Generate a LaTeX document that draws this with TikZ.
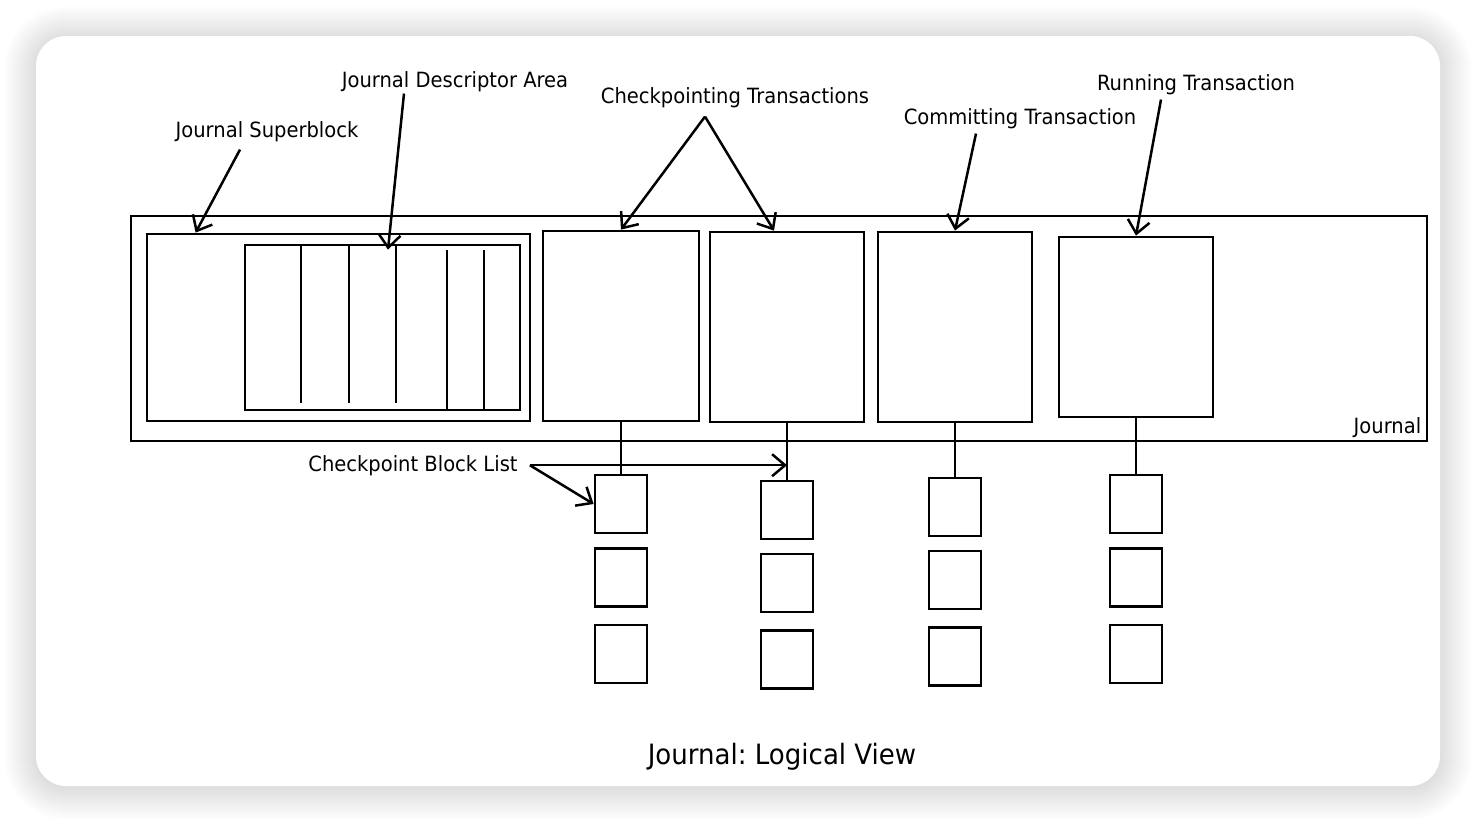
\documentclass[tikz,border=0pt]{standalone}
\usepackage{fontspec}
\setmainfont[FakeStretch=0.93]{DejaVu Sans}
\usetikzlibrary{arrows.meta}
\frenchspacing
\tikzset{
	box/.style={draw, line width=2.8pt, inner sep=0pt},
	blk/.style={box, minimum width=52pt, minimum height=58pt},
	trans/.style={box, minimum width=154pt, minimum height=190pt},
	lbl/.style={font=\fontsize{21}{25}\selectfont, inner sep=2pt, anchor=base},
	arr/.style={line width=2.5pt, -{Straight Barb[length=13pt,width=22pt]}},
	ln/.style={line width=2.6pt}
}
\begin{document}
\begin{tikzpicture}[x=1pt,y=-1pt]
	\useasboundingbox (0,0) rectangle (1476,822);
	\fill[white] (0,0) rectangle (1476,822);
	\foreach \sh in {1,...,32}
		\fill[black, opacity=0.005, rounded corners=30pt+\sh pt] (36-\sh,36-\sh+2) rectangle (1440+\sh,786+\sh+2);
	\fill[white, rounded corners=30pt] (36,36) rectangle (1440,786);

	\node[box, minimum width=1296pt, minimum height=225pt] (journal) at (779,328.5) {};
	\node[box, minimum width=383pt, minimum height=187pt] (super) at (338.5,327.5) {};
	\node[box, minimum width=275pt, minimum height=165pt] (desc) at (382.5,327.5) {};
	\foreach \x in {301,349,396} \draw[ln] (\x,245) -- (\x,403);
	\foreach \x in {447,484} \draw[ln] (\x,250) -- (\x,410);
	\node[trans, minimum width=156pt] (t1) at (621,326) {};
	\node[trans] (t2) at (787,327) {};
	\node[trans] (t3) at (955,327) {};
	\node[trans, minimum height=180pt] (t4) at (1136,327) {};

	\foreach \c/\x/\ya/\yb/\yc in {1/621/504/577.5/654, 2/787/510/583/659.5, 3/955/507/580/656.5, 4/1136/504/577.5/654} {
		\node[blk] (b\c1) at (\x,\ya) {};
		\node[blk] (b\c2) at (\x,\yb) {};
		\node[blk] (b\c3) at (\x,\yc) {};
		\draw[ln] (t\c.south) -- (b\c1.north);
	}

	\node[lbl] (lsuper) at (267,137) {Journal Superblock};
	\node[lbl] (ldesc) at (455,87) {Journal Descriptor Area};
	\node[lbl] (lckpt) at (735,103) {Checkpointing Transactions};
	\node[lbl] (lcomm) at (1020,124) {Committing Transaction};
	\node[lbl] (lrun) at (1196,90) {Running Transaction};
	\node[lbl] (lcbl) at (413,471) {Checkpoint Block List};
	\node[lbl, anchor=base east] (ljour) at ([xshift=-5pt,yshift=9pt]journal.south east) {Journal};
	\node[lbl, font=\fontsize{28}{32}\selectfont] (title) at (782,764) {Journal: Logical View};

	\draw[arr] ([xshift=-27pt,yshift=-6pt]lsuper.south) -- ([xshift=50pt]super.north west);
	\draw[arr] ([xshift=-51pt]ldesc.south) -- ([xshift=5.5pt,yshift=-6pt]desc.north);
	\draw[arr] ([xshift=-30pt,yshift=-7pt]lckpt.south) -- (t1.north);
	\draw[arr] ([xshift=-30pt,yshift=-7pt]lckpt.south) -- ([xshift=-13pt]t2.north);
	\draw[arr] ([xshift=-44pt,yshift=-3pt]lcomm.south) -- (t3.north);
	\draw[arr] ([xshift=-35pt,yshift=-3pt]lrun.south) -- (t4.north);
	\draw[arr] ([xshift=10pt]lcbl.east) -- (b11.west);
	\draw[arr] ([xshift=10pt]lcbl.east) -- (t2.south |- lcbl.east);
\end{tikzpicture}
\end{document}
